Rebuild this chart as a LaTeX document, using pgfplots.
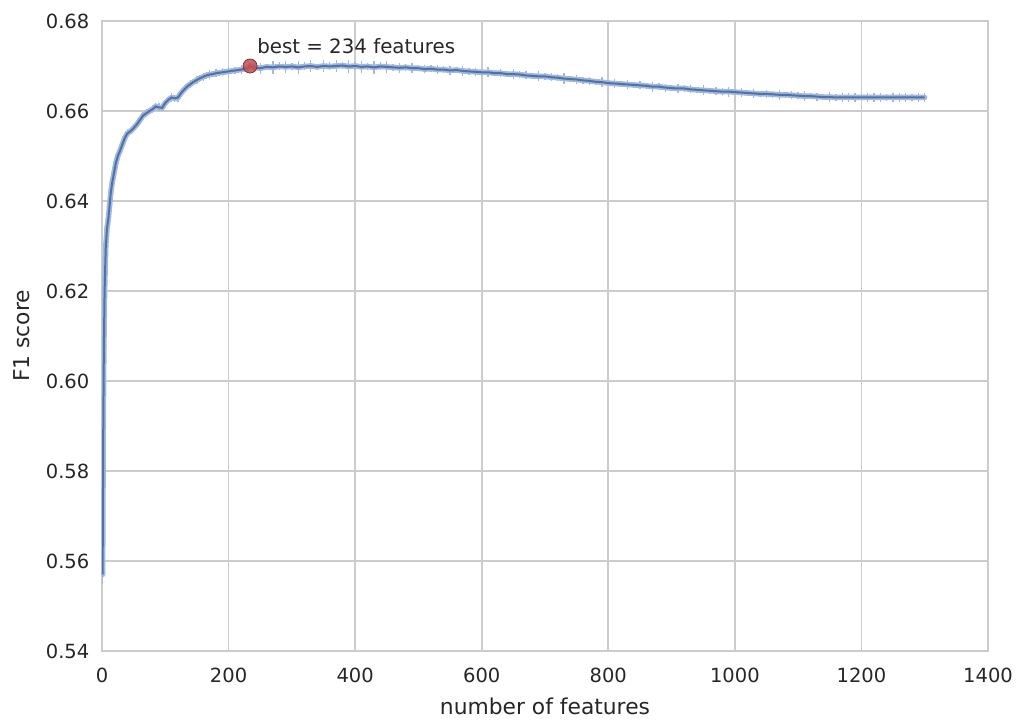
\documentclass[border=0pt]{standalone}
\usepackage{fontspec}
\setmainfont{DejaVu Sans}
\usepackage{pgfplots}
\pgfplotsset{compat=1.18}
\usepackage{pgfplotstable}
\definecolor{sbblue}{HTML}{4C72B0}
\definecolor{sblight}{HTML}{A5B8D7}
\definecolor{sbred}{HTML}{C44E52}
\definecolor{gridgrey}{HTML}{CCCCCC}
\definecolor{txt}{HTML}{262626}

\pgfplotstableread{
x y e
1 0.5570 0.0012
2 0.5900 0.0010
3 0.6080 0.0008
4 0.6190 0.0008
5 0.6250 0.0006
6 0.6300 0.0005
8 0.6340 0.0005
10 0.6360 0.0004
12 0.6390 0.0004
14 0.6420 0.0004
16 0.6440 0.0004
18 0.6455 0.0004
20 0.6470 0.0004
22 0.6485 0.0004
25 0.6500 0.0005
28 0.6510 0.0004
32 0.6525 0.0005
36 0.6540 0.0004
40 0.6550 0.0005
45 0.6555 0.0004
50 0.6562 0.0005
55 0.6570 0.0004
60 0.6580 0.0005
65 0.6590 0.0004
70 0.6595 0.0005
75 0.6600 0.0004
80 0.6604 0.0005
85 0.6610 0.0004
90 0.6608 0.0005
95 0.6607 0.0004
100 0.6618 0.0005
105 0.6625 0.0004
110 0.6630 0.0005
115 0.6628 0.0004
120 0.6630 0.0005
125 0.6640 0.0004
130 0.6648 0.0005
135 0.6655 0.0004
140 0.6660 0.0005
145 0.6665 0.0004
150 0.6669 0.0005
155 0.6673 0.0004
160 0.6676 0.0005
165 0.6679 0.0004
170 0.6681 0.0005
175 0.6682 0.0004
180 0.6684 0.0005
185 0.6685 0.0004
190 0.6686 0.0005
195 0.6687 0.0004
200 0.6688 0.0005
210 0.6690 0.0004
220 0.6692 0.0006
230 0.6695 0.0004
234 0.6700 0.0004
240 0.6697 0.0005
250 0.6695 0.0007
260 0.6698 0.0004
270 0.6697 0.0008
280 0.6699 0.0005
290 0.6698 0.0007
300 0.6699 0.0004
310 0.6697 0.0008
320 0.6699 0.0005
330 0.6700 0.0007
340 0.6698 0.0004
350 0.6700 0.0008
360 0.6699 0.0005
370 0.6700 0.0007
380 0.6701 0.0004
390 0.6699 0.0008
400 0.6700 0.0005
410 0.6698 0.0007
420 0.6699 0.0004
430 0.6697 0.0008
440 0.6699 0.0005
450 0.6698 0.0007
460 0.6697 0.0004
470 0.6696 0.0006
480 0.6697 0.0004
490 0.6695 0.0006
500 0.6695 0.0004
510 0.6693 0.0005
520 0.6694 0.0004
530 0.6692 0.0006
540 0.6692 0.0004
550 0.6690 0.0005
560 0.6691 0.0004
570 0.6689 0.0006
580 0.6688 0.0004
590 0.6687 0.0005
600 0.6686 0.0004
610 0.6686 0.0006
620 0.6684 0.0004
630 0.6684 0.0005
640 0.6682 0.0004
650 0.6682 0.0006
660 0.6681 0.0004
670 0.6679 0.0005
680 0.6678 0.0004
690 0.6677 0.0006
700 0.6677 0.0004
710 0.6675 0.0005
720 0.6674 0.0004
730 0.6672 0.0007
740 0.6671 0.0004
750 0.6670 0.0006
760 0.6668 0.0004
770 0.6667 0.0005
780 0.6665 0.0004
790 0.6664 0.0006
800 0.6662 0.0004
810 0.6661 0.0005
820 0.6660 0.0004
830 0.6659 0.0006
840 0.6658 0.0004
850 0.6657 0.0005
860 0.6656 0.0004
870 0.6654 0.0006
880 0.6654 0.0004
890 0.6652 0.0005
900 0.6651 0.0004
910 0.6650 0.0006
920 0.6650 0.0004
930 0.6648 0.0005
940 0.6647 0.0004
950 0.6646 0.0006
960 0.6645 0.0004
970 0.6644 0.0005
980 0.6643 0.0004
990 0.6643 0.0006
1000 0.6642 0.0004
1010 0.6641 0.0005
1020 0.6640 0.0004
1030 0.6639 0.0006
1040 0.6638 0.0004
1050 0.6638 0.0005
1060 0.6637 0.0004
1070 0.6636 0.0006
1080 0.6636 0.0004
1090 0.6635 0.0005
1100 0.6634 0.0004
1110 0.6633 0.0006
1120 0.6633 0.0004
1130 0.6632 0.0005
1140 0.6631 0.0004
1150 0.6631 0.0006
1160 0.6630 0.0004
1170 0.6630 0.0006
1180 0.6630 0.0005
1190 0.6630 0.0006
1200 0.6630 0.0004
1210 0.6630 0.0006
1220 0.6630 0.0005
1230 0.6630 0.0006
1240 0.6630 0.0004
1250 0.6630 0.0006
1260 0.6630 0.0005
1270 0.6630 0.0006
1280 0.6630 0.0004
1290 0.6630 0.0006
1300 0.6630 0.0005
}\rfe

\begin{document}
\begin{tikzpicture}
\path[use as bounding box] (-102bp,-71bp) rectangle (920bp,651bp);
\begin{axis}[
  clip marker paths=true,
  scale only axis, width=886bp, height=630bp,
  xmin=0, xmax=1400, ymin=0.54, ymax=0.68,
  xtick={0,200,400,600,800,1000,1200,1400},
  ytick={0.54,0.56,0.58,0.60,0.62,0.64,0.66,0.68},
  axis line style={draw=gridgrey, line width=2bp},
  grid=major, major grid style={draw=gridgrey, line width=1.7bp},
  major tick length=0pt, tick style={draw=none},
  /pgf/number format/assume math mode=true,
  ticklabel style={font=\fontsize{19.5bp}{23bp}\selectfont, text=txt},
  yticklabel style={/pgf/number format/fixed, /pgf/number format/fixed zerofill, /pgf/number format/precision=2, anchor=east, inner sep=0pt, xshift=-12.5bp},
  xticklabel style={/pgf/number format/1000 sep={}, anchor=north, inner sep=0pt, yshift=-17bp},
  scaled y ticks=false, scaled x ticks=false,
  xlabel={number of features}, ylabel={F1 score},
  every axis x label/.style={at={(axis description cs:0.5,-0.0873)}, anchor=center, font=\fontsize{21.8bp}{26bp}\selectfont, text=txt},
  every axis y label/.style={at={(axis description cs:-0.0903,0.5)}, rotate=90, anchor=center, font=\fontsize{21.8bp}{26bp}\selectfont, text=txt},
]
\addplot[sblight, line width=5.5bp, no markers] table[x=x, y=y] {\rfe};
\addplot[sblight, line width=1.3bp, only marks, mark=none,
  error bars/.cd, y dir=both, y explicit, error mark=none,
  error bar style={draw=sblight, line width=1.3bp}]
  table[x=x, y=y, y error expr=1.8*\thisrow{e}] {\rfe};
\addplot[sbblue, line width=2bp, no markers] table[x=x, y=y] {\rfe};
\addplot[only marks, mark=*, mark size=7bp,
  mark options={fill=sbred, fill opacity=0.85, draw=sbred!65!black, line width=0.8bp}]
  coordinates {(234,0.6700)};
\node[anchor=base west, inner sep=0pt, font=\fontsize{19.8bp}{24bp}\selectfont, text=txt] at (axis cs:245,0.6728) {best = 234 features};
\end{axis}
\end{tikzpicture}
\end{document}
